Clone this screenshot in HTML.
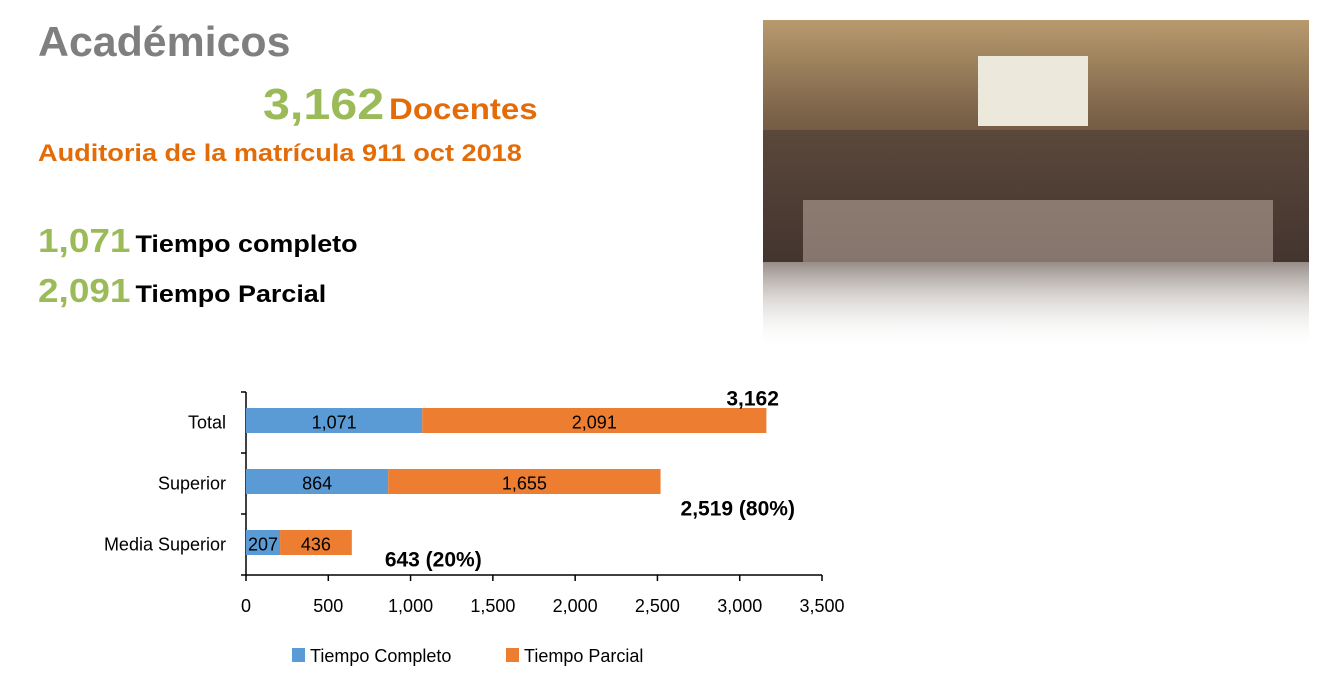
<!DOCTYPE html>
<html><head><meta charset="utf-8">
<style>
body{margin:0;width:1341px;height:689px;background:#fff;position:relative;overflow:hidden;font-family:"Liberation Sans",sans-serif;}
.t{position:absolute;white-space:nowrap;font-weight:bold;transform-origin:0 0;}
</style></head><body>
<div class="t" style="left:38px;top:18px;font-size:42px;color:#7f7f7f;transform:scaleX(1.02)">Académicos</div>
<div class="t" style="left:263px;top:80px;transform:scaleX(1.1)"><span style="font-size:44px;color:#9bbb59">3,162</span> <span style="font-size:30px;color:#e36c09">Docentes</span></div>
<div class="t" style="left:38px;top:140px;font-size:24px;color:#e36c09;transform:scaleX(1.13)">Auditoria de la matrícula 911 oct 2018</div>
<div class="t" style="left:38px;top:222px;transform:scaleX(1.12)"><span style="font-size:33px;color:#9bbb59">1,071</span> <span style="font-size:24px;color:#000">Tiempo completo</span></div>
<div class="t" style="left:38px;top:272px;transform:scaleX(1.12)"><span style="font-size:33px;color:#9bbb59">2,091</span> <span style="font-size:24px;color:#000">Tiempo Parcial</span></div>

<svg style="position:absolute;left:763px;top:20px" width="546" height="330">
<defs>
<linearGradient id="g1" x1="0" y1="0" x2="0" y2="1"><stop offset="0" stop-color="#b89a6e"/><stop offset="0.4" stop-color="#7a6248"/><stop offset="1" stop-color="#3a2c26"/></linearGradient>
<linearGradient id="g2" x1="0" y1="0" x2="0" y2="1"><stop offset="0" stop-color="#6b5c55" stop-opacity="0.7"/><stop offset="1" stop-color="#fff" stop-opacity="0"/></linearGradient>
</defs>
<rect width="546" height="242" fill="url(#g1)"/>
<rect x="215" y="36" width="110" height="70" fill="#ece8dc"/>
<rect x="0" y="110" width="546" height="132" fill="#4a3a36" opacity="0.6"/>
<rect x="40" y="180" width="470" height="62" fill="#c8b8ab" opacity="0.5"/>
<rect y="242" width="546" height="88" fill="url(#g2)"/>
</svg>

<svg id="chart" style="position:absolute;left:0;top:0" width="1341" height="689"></svg>
<script>
const categories=["Total","Superior","Media Superior"];
const completo=[1071,864,207];
const parcial=[2091,1655,436];
const ticks=[0,500,1000,1500,2000,2500,3000,3500];
const totalsLabels=["3,162","2,519 (80%)","643 (20%)"];
const NS="http://www.w3.org/2000/svg";
const svg=document.getElementById('chart');
const x0=246,x1=822,xmax=3500,yTop=392,yBot=575;
const X=v=>x0+v/xmax*(x1-x0);
const band=(yBot-yTop)/categories.length;
const Yc=i=>yTop+band*(i+0.5);
function mk(t,a,txt){const e=document.createElementNS(NS,t);for(const k in a)e.setAttribute(k,a[k]);if(txt!=null)e.textContent=txt;svg.appendChild(e);return e;}
const fmt=v=>v.toLocaleString('en-US');
let e;
e=mk('line',{x1:x0,y1:yTop,x2:x0,y2:yBot,stroke:'#000','stroke-width':1.5});


e=mk('line',{x1:x0,y1:yBot,x2:x1,y2:yBot,stroke:'#000','stroke-width':1.5});


for(let i=0;i<=categories.length;i++){mk('line',{x1:x0-5,y1:yTop+band*i,x2:x0,y2:yTop+band*i,stroke:'#000','stroke-width':1.5});}
ticks.forEach(t=>{
 mk('line',{x1:X(t),y1:yBot,x2:X(t),y2:yBot+6,stroke:'#000','stroke-width':1.5});
 e=mk('text',{x:X(t),y:yBot+37,'text-anchor':'middle','font-size':18,'font-family':'Liberation Sans, sans-serif'},fmt(t));
 
 
});
const bh=25;
const totDx=[-40,20,33];
const totDy=[-17,32,22];
categories.forEach((c,i)=>{
 const y=Yc(i);
 e=mk('text',{x:x0-20,y:y+6,'text-anchor':'end','font-size':18,'font-family':'Liberation Sans, sans-serif'},c);
 
 
 e=mk('rect',{x:X(0),y:y-bh/2-2,width:X(completo[i])-X(0),height:bh,fill:'#5b9bd5'});
 
 
 e=mk('rect',{x:X(completo[i]),y:y-bh/2-2,width:X(completo[i]+parcial[i])-X(completo[i]),height:bh,fill:'#ed7d31'});
 
 
 e=mk('text',{x:(X(0)+X(completo[i]))/2,y:y+6,'text-anchor':'middle','font-size':18,'font-family':'Liberation Sans, sans-serif'},fmt(completo[i]));
 
 
 e=mk('text',{x:(X(completo[i])+X(completo[i]+parcial[i]))/2,y:y+6,'text-anchor':'middle','font-size':18,'font-family':'Liberation Sans, sans-serif'},fmt(parcial[i]));
 
 
 const xe=X(completo[i]+parcial[i]);
 e=mk('text',{x:xe+totDx[i],y:y+totDy[i],'font-size':21,'font-weight':'bold','font-family':'Liberation Sans, sans-serif'},totalsLabels[i]);
 
 
});
e=mk('rect',{x:292,y:648,width:13,height:14,fill:'#5b9bd5'});


e=mk('text',{x:310,y:662,'font-size':18,'font-family':'Liberation Sans, sans-serif'},'Tiempo Completo');


e=mk('rect',{x:506,y:648,width:13,height:14,fill:'#ed7d31'});


e=mk('text',{x:524,y:662,'font-size':18,'font-family':'Liberation Sans, sans-serif'},'Tiempo Parcial');


</script>
</body></html>
